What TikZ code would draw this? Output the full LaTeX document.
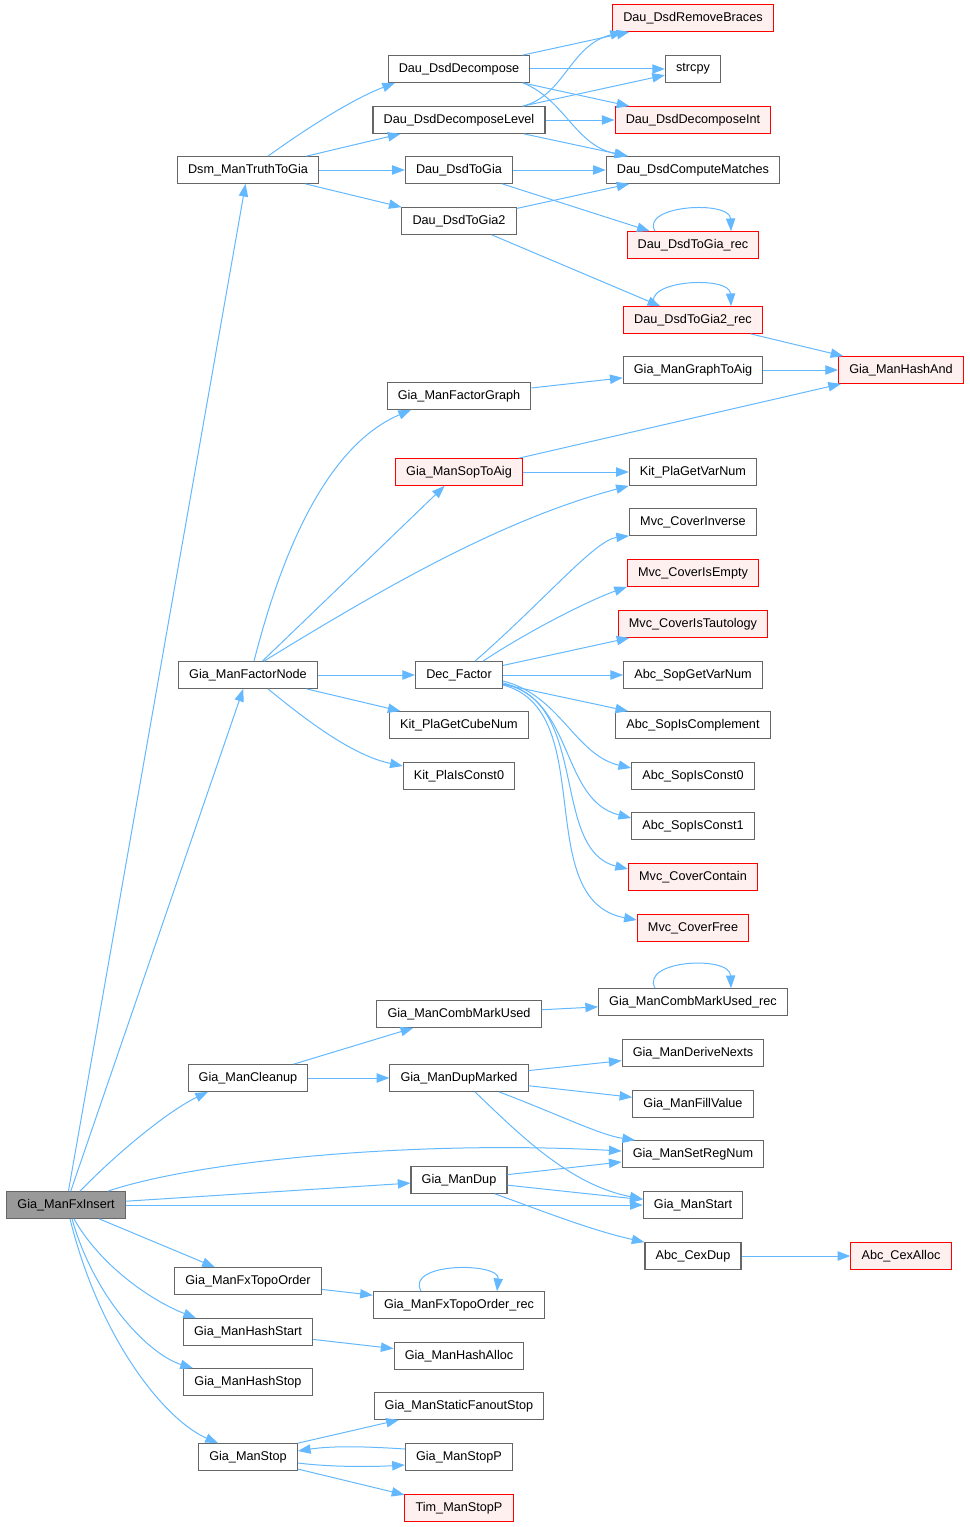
\documentclass[tikz,border=0pt]{standalone}
\usepackage{fontspec}
\setmainfont{Liberation Sans}
\usetikzlibrary{arrows.meta}
\definecolor{edgeblue}{HTML}{63B8FF}
\definecolor{boxgray}{HTML}{666666}
\definecolor{rootfill}{HTML}{999999}
\definecolor{redfill}{HTML}{FFF0F0}
\tikzset{
  fn/.style={draw=boxgray,fill=white,line width=0.8pt,inner xsep=8pt,inner ysep=0pt,
    minimum height=20pt,font=\fontsize{9.5}{11}\selectfont},
  fnred/.style={fn,draw=red,fill=redfill},
  fnroot/.style={fn,fill=rootfill},
  call/.style={draw=edgeblue,line width=0.75pt,-{Triangle[length=9.5pt,width=7pt]}},
}
\begin{document}
\begin{tikzpicture}[x=0.75pt,y=-0.75pt]
\useasboundingbox (0,0) rectangle (970,1527);
% first column
\node[fnroot](root) at (66,1205) {Gia\_ManFxInsert};
% second column
\node[fn](dsm) at (248,170) {Dsm\_ManTruthToGia};
\node[fn](factnode) at (248,675) {Gia\_ManFactorNode};
\node[fn](cleanup) at (248,1078) {Gia\_ManCleanup};
\node[fn](topo) at (248,1281) {Gia\_ManFxTopoOrder};
\node[fn](hstart) at (248,1332) {Gia\_ManHashStart};
\node[fn](hstop) at (248,1382) {Gia\_ManHashStop};
\node[fn](mstop) at (248,1457) {Gia\_ManStop};
% third column
\node[fn](dec) at (459,69) {Dau\_DsdDecompose};
\node[fn](lev) at (459,120) {Dau\_DsdDecomposeLevel};
\node[fn](togia) at (459,170) {Dau\_DsdToGia};
\node[fn](togia2) at (459,221) {Dau\_DsdToGia2};
\node[fn](factgraph) at (459,396) {Gia\_ManFactorGraph};
\node[fnred](soptoaig) at (459,472) {Gia\_ManSopToAig};
\node[fn](decfact) at (459,675) {Dec\_Factor};
\node[fn](placube) at (459,725) {Kit\_PlaGetCubeNum};
\node[fn](plac0) at (459,776) {Kit\_PlaIsConst0};
\node[fn](comb) at (459,1014) {Gia\_ManCombMarkUsed};
\node[fn](dupm) at (459,1078) {Gia\_ManDupMarked};
\node[fn](dup) at (459,1180) {Gia\_ManDup};
\node[fn](toporec) at (459,1305) {Gia\_ManFxTopoOrder\_rec};
\node[fn](halloc) at (459,1356) {Gia\_ManHashAlloc};
\node[fn](sfstop) at (459,1406) {Gia\_ManStaticFanoutStop};
\node[fn](stopp) at (459,1457) {Gia\_ManStopP};
\node[fnred](timstop) at (459,1508) {Tim\_ManStopP};
% fourth column
\node[fnred](rmb) at (693,18) {Dau\_DsdRemoveBraces};
\node[fn](strcpy) at (693,69) {strcpy};
\node[fnred](decint) at (693,120) {Dau\_DsdDecomposeInt};
\node[fn](match) at (693,170) {Dau\_DsdComputeMatches};
\node[fnred](togiarec) at (693,245) {Dau\_DsdToGia\_rec};
\node[fnred](togia2rec) at (693,320) {Dau\_DsdToGia2\_rec};
\node[fn](graphtoaig) at (693,370) {Gia\_ManGraphToAig};
\node[fn](plavar) at (693,472) {Kit\_PlaGetVarNum};
\node[fn](cinv) at (693,522) {Mvc\_CoverInverse};
\node[fnred](cempty) at (693,573) {Mvc\_CoverIsEmpty};
\node[fnred](ctaut) at (693,624) {Mvc\_CoverIsTautology};
\node[fn](sopvar) at (693,675) {Abc\_SopGetVarNum};
\node[fn](sopcompl) at (693,725) {Abc\_SopIsComplement};
\node[fn](sopc0) at (693,776) {Abc\_SopIsConst0};
\node[fn](sopc1) at (693,826) {Abc\_SopIsConst1};
\node[fnred](ccontain) at (693,877) {Mvc\_CoverContain};
\node[fnred](cfree) at (693,928) {Mvc\_CoverFree};
\node[fn](combrec) at (693,1002) {Gia\_ManCombMarkUsed\_rec};
\node[fn](nexts) at (693,1053) {Gia\_ManDeriveNexts};
\node[fn](fillval) at (693,1104) {Gia\_ManFillValue};
\node[fn](setreg) at (693,1154) {Gia\_ManSetRegNum};
\node[fn](mstart) at (693,1205) {Gia\_ManStart};
\node[fn](cexdup) at (693,1256) {Abc\_CexDup};
% last column
\node[fnred](hashand) at (901,370) {Gia\_ManHashAnd};
\node[fnred](cexalloc) at (901,1256) {Abc\_CexAlloc};
% calls of Gia_ManFxInsert
\draw[call](root)--(dsm);
\draw[call](root)--(factnode);
\draw[call]([shift={(14,0)}]root.north) .. controls (120,1150) and (170,1110) .. ([shift={(-40,0)}]cleanup.south);
\draw[call]([shift={(42,0)}]root.north) .. controls (200,1160) and (420,1140) .. ([shift={(0,-3)}]setreg.west);
\draw[call](root)--(dup);
\draw[call](root)--(mstart);
\draw[call](root)--(topo);
\draw[call]([shift={(8,0)}]root.south) .. controls (100,1265) and (150,1300) .. ([shift={(-52,0)}]hstart.north);
\draw[call]([shift={(6,0)}]root.south) .. controls (95,1300) and (150,1355) .. ([shift={(-55,0)}]hstop.north);
\draw[call]([shift={(4,0)}]root.south) .. controls (100,1340) and (165,1420) .. ([shift={(-30,0)}]mstop.north);
% truth table branch
\draw[call]([shift={(20,0)}]dsm.north) .. controls (300,133) and (350,100) .. ([shift={(-64,0)}]dec.south);
\draw[call](dsm)--(lev);
\draw[call](dsm)--(togia);
\draw[call](dsm)--(togia2);
\draw[call](dec)--(rmb);
\draw[call](dec)--(strcpy);
\draw[call](dec)--(decint);
\draw[call]([shift={(64,0)}]dec.south) .. controls (565,100) and (575,145) .. ([shift={(-66,0)}]match.north);
\draw[call]([shift={(64,0)}]lev.north) .. controls (565,95) and (570,45) .. ([shift={(-70,0)}]rmb.south);
\draw[call](lev)--(strcpy);
\draw[call](lev)--(decint);
\draw[call](lev)--(match);
\draw[call](togia)--(match);
\draw[call](togia)--(togiarec);
\draw[call](togia2)--(match);
\draw[call](togia2)--(togia2rec);
\draw[call]([shift={(-38,0)}]togiarec.north) .. controls (640,205) and (730,200) .. ([shift={(38,0)}]togiarec.north);
\draw[call]([shift={(-38,0)}]togia2rec.north) .. controls (640,280) and (730,275) .. ([shift={(38,0)}]togia2rec.north);
\draw[call](togia2rec)--(hashand);
% factoring branch
\draw[call]([shift={(6,0)}]factnode.north) .. controls (290,520) and (340,440) .. ([shift={(-48,0)}]factgraph.south);
\draw[call](factnode)--(soptoaig);
\draw[call]([shift={(16,0)}]factnode.north) .. controls (380,590) and (500,520) .. (plavar.south west);
\draw[call](factnode)--(decfact);
\draw[call](factnode)--(placube);
\draw[call]([shift={(20,0)}]factnode.south) .. controls (300,715) and (350,755) .. ([shift={(0,-10)}]plac0.west);
\draw[call](factgraph)--(graphtoaig);
\draw[call](graphtoaig)--(hashand);
\draw[call](soptoaig)--(hashand);
\draw[call](soptoaig)--(plavar);
\draw[call]([shift={(16,0)}]decfact.north) .. controls (545,600) and (595,540) .. (cinv.south west);
\draw[call]([shift={(24,0)}]decfact.north) .. controls (530,630) and (590,600) .. (cempty.south west);
\draw[call](decfact)--(ctaut);
\draw[call](decfact)--(sopvar);
\draw[call](decfact)--(sopcompl);
\draw[call]([shift={(0,6)}]decfact.east) .. controls (560,695) and (575,755) .. ([shift={(0,-8)}]sopc0.west);
\draw[call]([shift={(0,8)}]decfact.east) .. controls (575,700) and (560,800) .. ([shift={(0,-8)}]sopc1.west);
\draw[call]([shift={(0,9)}]decfact.east) .. controls (590,700) and (550,850) .. ([shift={(0,-8)}]ccontain.west);
\draw[call]([shift={(0,10)}]decfact.east) .. controls (600,710) and (530,900) .. ([shift={(0,-8)}]cfree.west);
% cleanup branch
\draw[call](cleanup)--(comb);
\draw[call](cleanup)--(dupm);
\draw[call](comb)--(combrec);
\draw[call]([shift={(-38,0)}]combrec.north) .. controls (640,960) and (730,955) .. ([shift={(38,0)}]combrec.north);
\draw[call](dupm)--(nexts);
\draw[call](dupm)--(fillval);
\draw[call]([shift={(40,0)}]dupm.south) .. controls (560,1115) and (600,1135) .. ([shift={(-58,0)}]setreg.north);
\draw[call]([shift={(16,0)}]dupm.south) .. controls (520,1135) and (570,1185) .. ([shift={(0,-6)}]mstart.west);
\draw[call](dup)--(setreg);
\draw[call](dup)--(mstart);
\draw[call]([shift={(36,0)}]dup.south) .. controls (540,1210) and (590,1230) .. (cexdup.north west);
\draw[call](cexdup)--(cexalloc);
% remaining calls
\draw[call](topo)--(toporec);
\draw[call]([shift={(-38,0)}]toporec.north) .. controls (405,1262) and (500,1262) .. ([shift={(38,0)}]toporec.north);
\draw[call](hstart)--(halloc);
\draw[call](mstop.north east)--(sfstop);
\draw[call]([shift={(0,-8)}]stopp.west) .. controls (360,1446) and (330,1446) .. ([shift={(0,-6)}]mstop.east);
\draw[call]([shift={(0,6)}]mstop.east) .. controls (330,1467) and (370,1467) .. ([shift={(0,8)}]stopp.west);
\draw[call](mstop)--(timstop);
\end{tikzpicture}
\end{document}
